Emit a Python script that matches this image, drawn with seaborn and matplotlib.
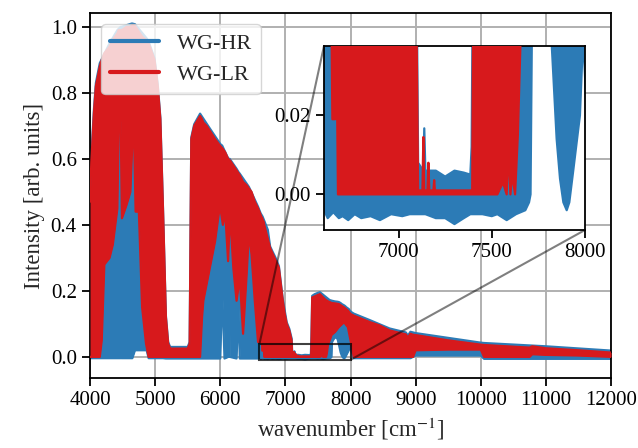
"""
Broadband spectrum of the two waveguide samples (WG-HR vs WG-LR),
with a zoomed inset on the 6600-8000 cm^-1 window.
The dense line spectra are kept as lower/upper envelopes read off the figure.
"""

import matplotlib
matplotlib.use('Agg')
import matplotlib.pyplot as plt
from matplotlib.ticker import FormatStrFormatter
from mpl_toolkits.axes_grid1.inset_locator import mark_inset
import seaborn as sns


# ── Data (envelopes of the dense spectra) ─────────────────────────────────────

lr_wavenumber = [
    4000, 4020, 4060, 4090, 4150, 4180, 4220, 4300, 4350, 4420,
    4440, 4470, 4490, 4560, 4620, 4650, 4680, 4700, 4750, 4800,
    4860, 4900, 4990, 5040, 5080, 5120, 5165, 5200, 5230, 5500,
    5530, 5555, 5600, 5690, 5720, 5740, 5790, 5840, 5920, 5995,
    6040, 6075, 6120, 6150, 6200, 6250, 6300, 6350, 6405, 6440,
    6480, 6530, 6580, 6640, 6645, 6660, 6666, 6675, 6765, 6900,
    6960, 6990, 7020, 7060, 7095, 7105, 7128, 7133, 7138, 7155,
    7160, 7165, 7187, 7191, 7195, 7395, 7402, 7412, 7530, 7560,
    7580, 7590, 7600, 7610, 7625, 7640, 7655, 7680, 7710, 7760,
    7820, 7900, 7960, 8000, 8050, 8300, 8450, 8600, 8850, 8880,
    8920, 8960, 9000, 9500, 10000, 10050, 10750, 10790, 11000, 11500,
    12000,
]
lr_low = [
    0.00, 0.00, 0.00, 0.00, 0.00, 0.05, 0.28, 0.30, 0.34, 0.45,
    0.70, 0.72, 0.42, 0.46, 0.50, 0.65, 0.64, 0.44, 0.44, 0.15,
    0.04, 0.00, 0.00, 0.00, 0.00, 0.00, 0.00, 0.00, 0.00, 0.00,
    0.00, 0.00, 0.00, 0.00, 0.12, 0.17, 0.22, 0.27, 0.35, 0.46,
    0.40, 0.44, 0.29, 0.44, 0.27, 0.17, 0.24, 0.07, 0.25, 0.375,
    0.31, 0.17, 0.045, 0.045, 0.019, 0.019, 0.045, 0.00, 0.00, 0.00,
    0.00, 0.00, 0.00, 0.00, 0.00, 0.00, 0.00, 0.00, 0.00, 0.00,
    0.00, 0.00, 0.00, 0.00, 0.00, 0.00, 0.00, 0.00, 0.00, 0.003,
    0.00, 0.012, 0.00, 0.005, 0.00, 0.015, 0.04, 0.05, 0.067, 0.075,
    0.09, 0.105, 0.09, 0.05, 0.00, 0.00, 0.00, 0.00, 0.00, 0.00,
    0.00, 0.00, 0.02, 0.022, 0.022, 0.00, 0.00, 0.008, 0.006, 0.004,
    0.00,
]
lr_high = [
    0.47, 0.59, 0.74, 0.82, 0.88, 0.90, 0.92, 0.94, 0.96, 0.98,
    0.99, 0.99, 0.99, 1.00, 1.00, 1.005, 1.005, 1.00, 0.985, 0.97,
    0.96, 0.95, 0.90, 0.82, 0.72, 0.45, 0.12, 0.04, 0.025, 0.025,
    0.04, 0.66, 0.70, 0.73, 0.72, 0.71, 0.70, 0.685, 0.66, 0.64,
    0.63, 0.62, 0.60, 0.595, 0.58, 0.565, 0.55, 0.53, 0.52, 0.51,
    0.50, 0.47, 0.45, 0.42, 0.42, 0.41, 0.41, 0.40, 0.33, 0.27,
    0.17, 0.13, 0.10, 0.08, 0.05, 0.001, 0.001, 0.0145, 0.001, 0.001,
    0.008, 0.001, 0.001, 0.0036, 0.001, 0.001, 0.06, 0.18, 0.19, 0.184,
    0.18, 0.178, 0.176, 0.174, 0.172, 0.17, 0.168, 0.166, 0.163, 0.162,
    0.16, 0.15, 0.14, 0.13, 0.125, 0.105, 0.095, 0.08, 0.068, 0.058,
    0.07, 0.067, 0.066, 0.05, 0.037, 0.036, 0.028, 0.032, 0.026, 0.02,
    0.013,
]

hr_wavenumber = [
    4000, 4020, 4060, 4090, 4150, 4300, 4420, 4470, 4476, 4482,
    4640, 4645, 4650, 4690, 4870, 4900, 4990, 5040, 5080, 5120,
    5165, 5200, 5230, 5500, 5530, 5555, 5600, 5690, 5840, 6000,
    6030, 6065, 6125, 6135, 6145, 6250, 6280, 6300, 6440, 6580,
    6600, 6620, 6650, 6680, 6700, 6730, 6765, 6800, 6850, 6900,
    6960, 7020, 7060, 7097, 7105, 7132, 7138, 7144, 7200, 7250,
    7300, 7350, 7385, 7392, 7400, 7412, 7450, 7500, 7530, 7580,
    7630, 7680, 7700, 7708, 7716, 7760, 7800, 7822, 7848, 7866,
    7884, 7902, 7916, 7937, 7973, 7990, 8010, 8050, 8300, 8600,
    8850, 8880, 8920, 9000, 10000, 10050, 11000, 12000,
]
hr_low = [
    -0.004, -0.004, -0.004, -0.004, -0.004, -0.004, -0.004, -0.004, 0.27, -0.004,
    -0.004, 0.12, -0.004, 0.02, 0.02, -0.004, -0.004, -0.004, -0.004, -0.004,
    -0.005, -0.005, -0.005, -0.005, -0.005, -0.005, -0.005, -0.005, -0.005, -0.005,
    0.20, -0.005, 0.00, 0.22, 0.00, -0.005, 0.15, -0.005, -0.005, -0.005,
    -0.004, -0.006, -0.0045, -0.006, -0.0055, -0.0065, -0.005, -0.006, -0.0055, -0.0065,
    -0.005, -0.0055, -0.005, -0.005, -0.005, -0.005, -0.005, -0.005, -0.006, -0.006,
    -0.0075, -0.006, -0.005, -0.005, -0.005, -0.005, -0.005, -0.0055, -0.005, -0.0065,
    -0.005, -0.004, -0.002, 0.00, 0.045, 0.06, 0.055, 0.0375, 0.014, 0.004,
    -0.002, -0.004, -0.002, 0.006, 0.02, 0.04, 0.02, -0.004, -0.004, -0.004,
    -0.004, -0.004, -0.004, 0.004, 0.004, -0.006, -0.006, -0.006,
]
hr_high = [
    0.50, 0.61, 0.75, 0.83, 0.89, 0.95, 0.99, 1.00, 1.00, 1.00,
    1.01, 1.01, 1.01, 1.008, 0.965, 0.955, 0.905, 0.825, 0.725, 0.455,
    0.125, 0.045, 0.03, 0.03, 0.045, 0.665, 0.705, 0.737, 0.692, 0.645,
    0.64, 0.625, 0.60, 0.60, 0.60, 0.57, 0.56, 0.555, 0.515, 0.455,
    0.445, 0.435, 0.425, 0.41, 0.40, 0.385, 0.335, 0.32, 0.30, 0.275,
    0.175, 0.105, 0.085, 0.055, 0.008, 0.006, 0.0167, 0.006, 0.006, 0.0045,
    0.006, 0.0055, 0.005, 0.012, 0.065, 0.185, 0.19, 0.194, 0.196, 0.188,
    0.18, 0.172, 0.171, 0.17, 0.17, 0.168, 0.167, 0.166, 0.163, 0.16,
    0.158, 0.156, 0.154, 0.15, 0.145, 0.14, 0.136, 0.131, 0.111, 0.086,
    0.074, 0.064, 0.076, 0.072, 0.043, 0.042, 0.032, 0.019,
]

x_ticks = [4000, 5000, 6000, 7000, 8000, 9000, 10000, 11000, 12000]
y_ticks = [0.0, 0.2, 0.4, 0.6, 0.8, 1.0]
inset_x_ticks = [7000, 7500, 8000]
inset_y_ticks = [0.0, 0.02]

HR_COLOR = '#2c7bb6'
LR_COLOR = '#d7191c'


# ── Style ──────────────────────────────────────────────────────────────────────

sns.set_theme(style='ticks', rc={
    'axes.edgecolor': 'black',
    'axes.linewidth': 1.3,
    'xtick.color': 'black',
    'ytick.color': 'black',
    'xtick.major.size': 6,
    'ytick.major.size': 6,
    'xtick.major.width': 1.3,
    'ytick.major.width': 1.3,
    'font.size': 15,
    'axes.labelsize': 16.5,
    'xtick.labelsize': 15,
    'ytick.labelsize': 15,
    'legend.fontsize': 16,
})
plt.rcParams['font.family'] = ['Liberation Serif', 'DejaVu Serif']
plt.rcParams['mathtext.fontset'] = 'stix'


def draw_band(ax, wn, low, high, color, z, label=None):
    """Fill a dense spectrum between its envelopes and trace both edges."""
    ax.fill_between(wn, low, high, color=color, lw=0, zorder=z)
    sns.lineplot(x=wn, y=high, ax=ax, color=color, lw=1.6, label=label,
                 estimator=None, sort=False, zorder=z + 0.1,
                 solid_joinstyle='round', solid_capstyle='round')
    sns.lineplot(x=wn, y=low, ax=ax, color=color, lw=1.6,
                 estimator=None, sort=False, zorder=z + 0.1,
                 solid_joinstyle='round', solid_capstyle='round')


# ── Main axes ──────────────────────────────────────────────────────────────────

fig, ax = plt.subplots(figsize=(6.38, 4.48), dpi=100)
fig.subplots_adjust(left=0.1411, right=0.9577, bottom=0.1563, top=0.971)

draw_band(ax, hr_wavenumber, hr_low, hr_high, HR_COLOR, 2, label='WG-HR')
draw_band(ax, lr_wavenumber, lr_low, lr_high, LR_COLOR, 3, label='WG-LR')

ax.set_xlim(4000, 12000)
ax.set_ylim(-0.064, 1.042)
ax.set_xticks(x_ticks)
ax.set_yticks(y_ticks)
ax.yaxis.set_major_formatter(FormatStrFormatter('%.1f'))
ax.grid(True, color='#b0b0b0', lw=1.4)
ax.set_xlabel(r'wavenumber [cm$^{-1}$]')
ax.set_ylabel('Intensity [arb. units]')

leg = ax.legend(loc='upper left', handlelength=2.2, handletextpad=0.8,
                framealpha=0.8, edgecolor='0.8')
for line in leg.get_lines():
    line.set_linewidth(3)

# ── Inset ──────────────────────────────────────────────────────────────────────

axins = fig.add_axes([0.5078, 0.4866, 0.4091, 0.4107])
draw_band(axins, hr_wavenumber, hr_low, hr_high, HR_COLOR, 2)
draw_band(axins, lr_wavenumber, lr_low, lr_high, LR_COLOR, 3)
axins.set_xlim(6600, 8000)
axins.set_ylim(-0.009, 0.0375)
axins.set_xticks(inset_x_ticks)
axins.set_yticks(inset_y_ticks)
axins.yaxis.set_major_formatter(FormatStrFormatter('%.2f'))
axins.grid(False)

rect, conn1, conn2 = mark_inset(ax, axins, loc1=2, loc2=4, fc='none', ec='black', lw=1.5)
rect.set_alpha(0.75)
rect.set_zorder(5)
for conn in (conn1, conn2):
    conn.set_alpha(0.5)

fig.savefig('out.png', dpi=100)
